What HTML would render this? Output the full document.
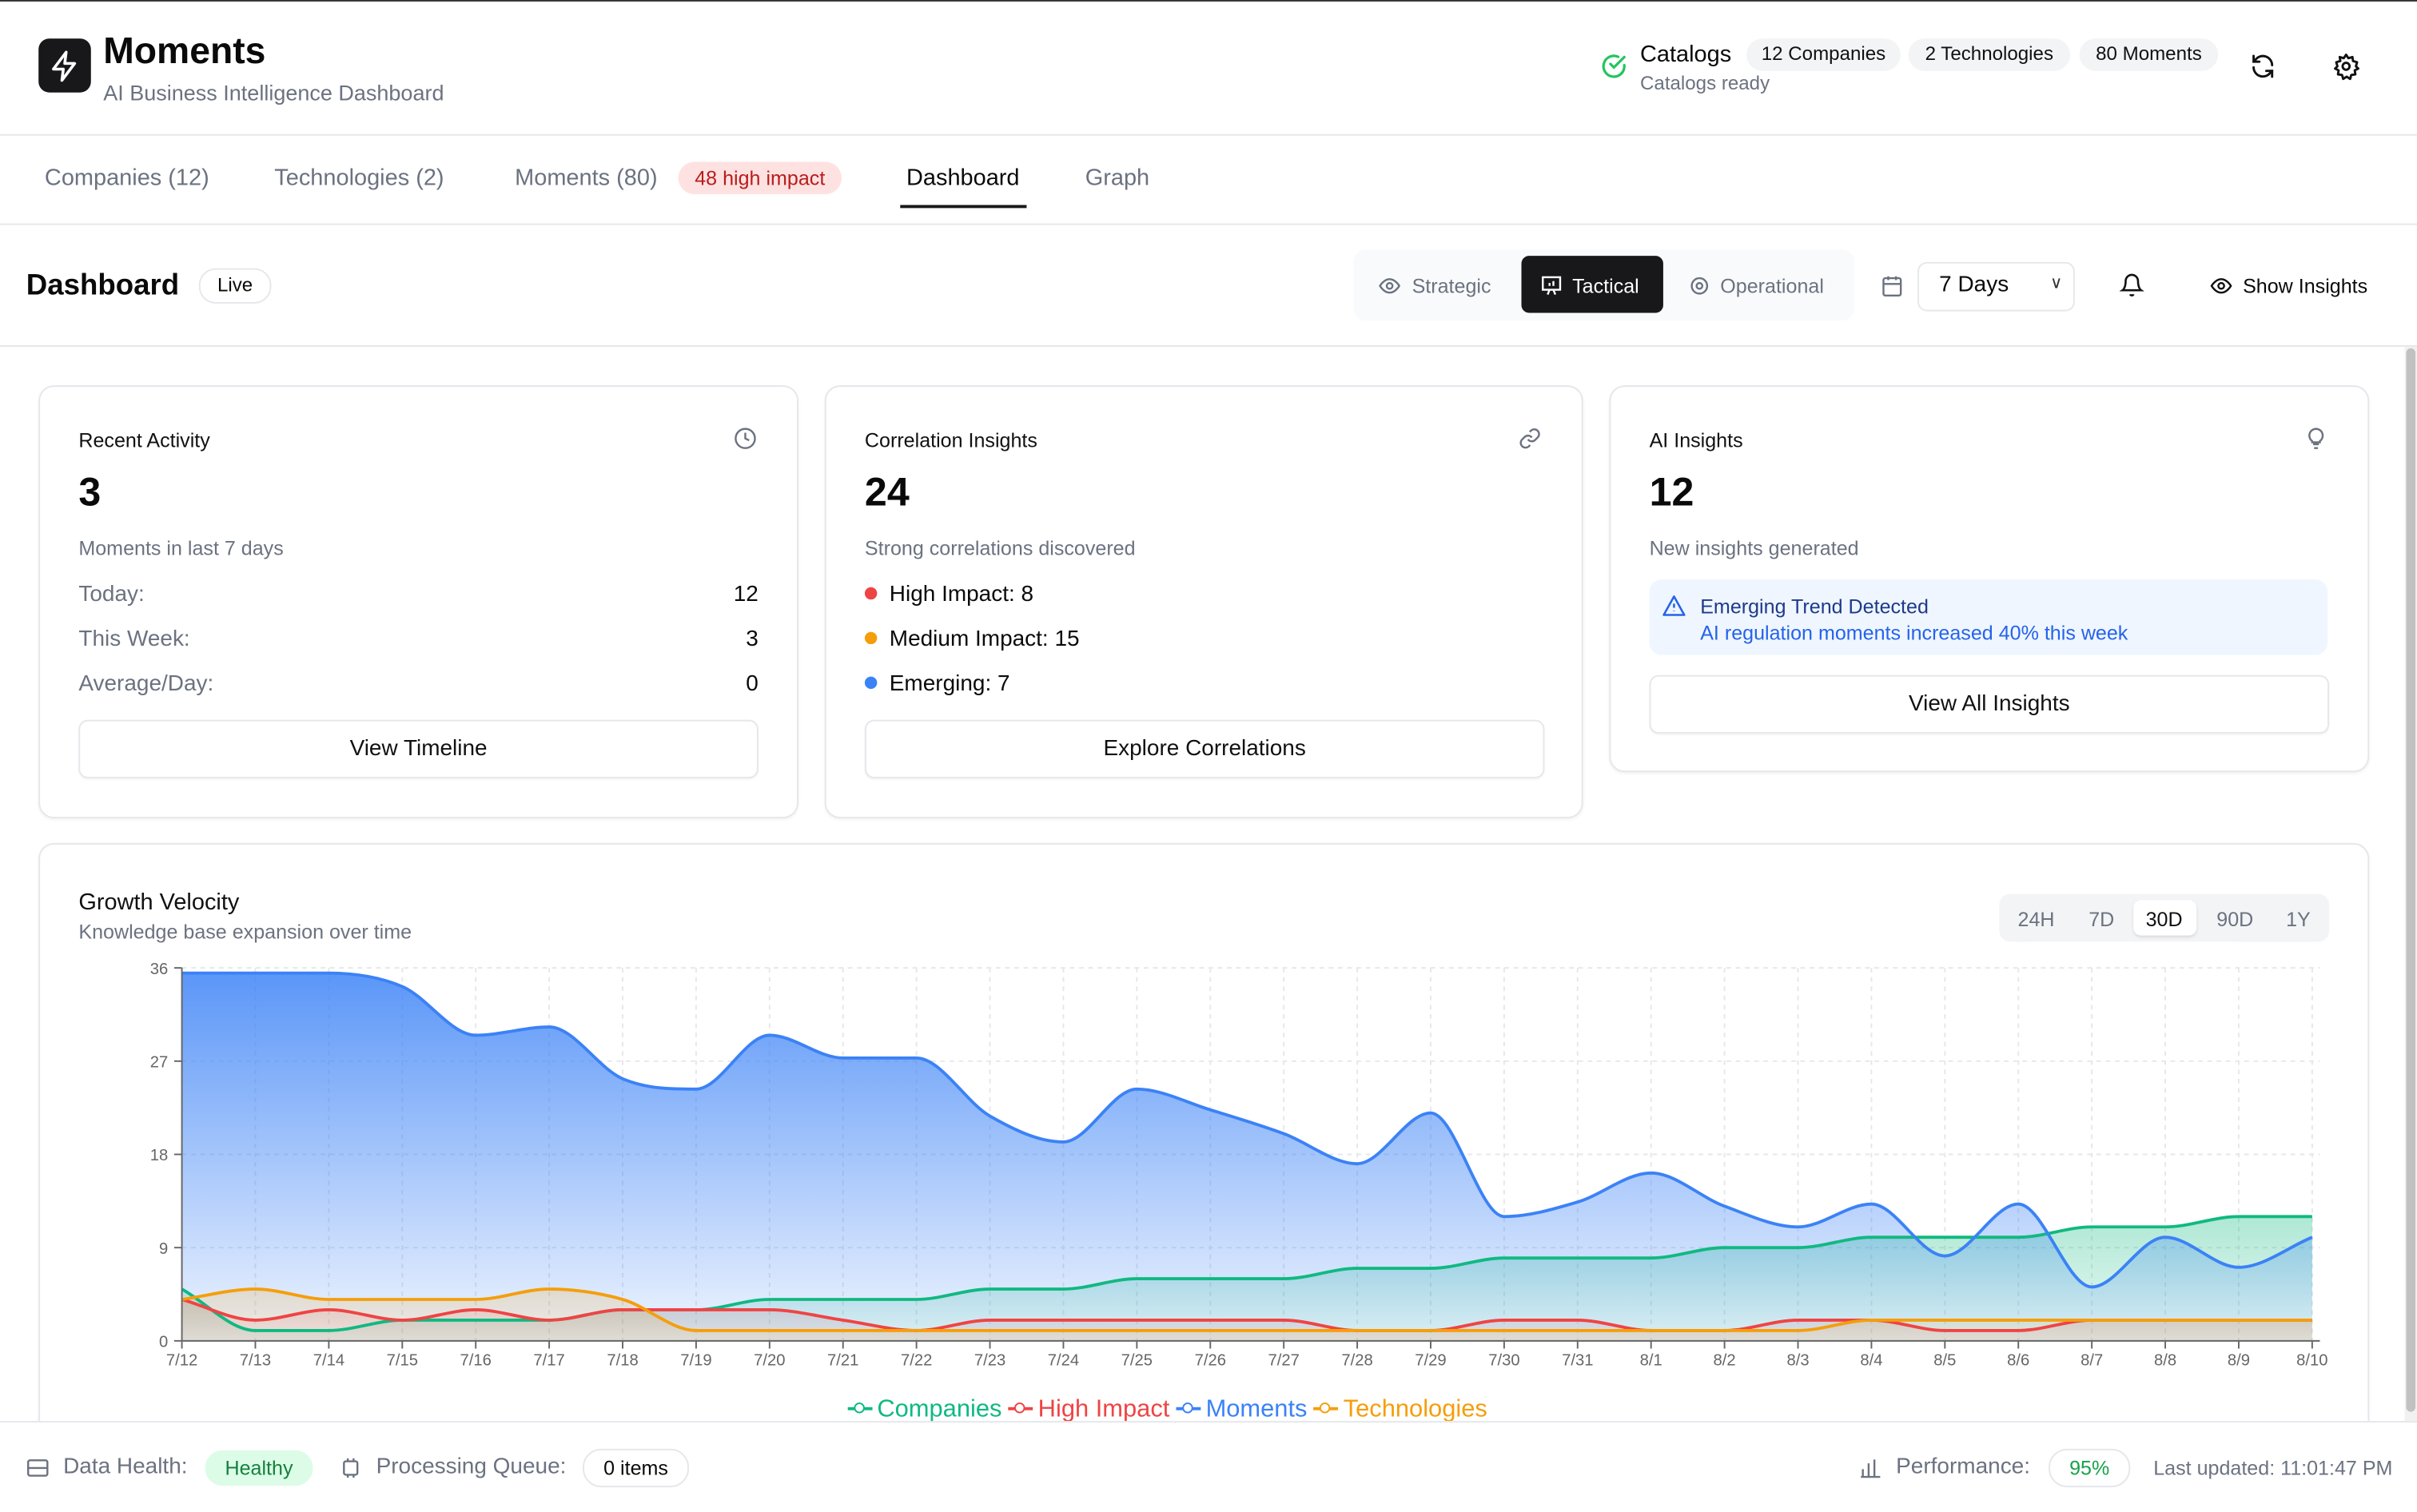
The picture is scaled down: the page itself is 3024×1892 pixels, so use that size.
<!DOCTYPE html>
<html><head><meta charset="utf-8">
<style>
html,body{margin:0;padding:0;background:#fff;overflow:hidden}
#root{position:absolute;left:0;top:0;width:1568px;height:980px;transform:scale(1.928571);transform-origin:0 0;font-family:"Liberation Sans",sans-serif;color:#0a0a0a}
.a{position:absolute;white-space:nowrap}
.hr{position:absolute;left:0;width:1568px;height:1px;background:#e5e7eb}
.pill{position:absolute;height:21px;line-height:21px;background:#f3f4f6;border-radius:11px;font-size:12.5px;text-align:center;color:#111}
.card{position:absolute;border:1px solid #e5e7eb;border-radius:10px;background:#fff;box-shadow:0 1px 2px rgba(0,0,0,.05)}
.ct{font-size:13px;color:#111}
.big{font-size:26px;font-weight:bold}
.cap{font-size:13px;color:#6b7280}
.row{font-size:14.5px;color:#6b7280}
.btn{position:absolute;border:1px solid #e5e7eb;border-radius:6px;background:#fff;text-align:center;font-size:14.5px;color:#111;box-shadow:0 1px 1px rgba(0,0,0,.04)}
.tab{position:absolute;top:107px;font-size:15px;color:#6b7280}
.dot{display:inline-block;width:8px;height:8px;border-radius:50%;margin-right:8px;vertical-align:1px}
.lg{display:inline-block;position:relative;width:16px;height:10px;margin-right:3px}
.lg:before{content:"";position:absolute;left:0;top:4px;width:16px;height:2px;background:currentColor}
.lg:after{content:"";position:absolute;left:4px;top:1px;width:5px;height:5px;border:1.5px solid currentColor;border-radius:50%;background:#fff}
</style></head><body><div id="root">
<div class="a" style="left:0;top:0;width:1568px;height:1px;background:#333"></div>
<div class="a" style="left:25px;top:25px;width:34px;height:35px;background:#18181b;border-radius:7px"></div>
<svg class="a" style="left:31px;top:32px" width="22" height="22" viewBox="0 0 24 24" fill="none" stroke="#fff" stroke-width="2" stroke-linejoin="round"><path d="M13 2L4 14h7l-1 8 9-12h-7z"/></svg>
<div class="a" style="left:67px;top:20px;font-size:24px;font-weight:bold">Moments</div>
<div class="a" style="left:67px;top:52px;font-size:14px;color:#6b7280">AI Business Intelligence Dashboard</div>
<svg class="a" style="left:1038px;top:34px" width="18" height="18" viewBox="0 0 24 24" fill="none" stroke="#22c55e" stroke-width="2.2" stroke-linecap="round"><path d="M21 11.1V12a9 9 0 1 1-5.3-8.2"/><path d="M21 4L12 13l-3-3"/></svg>
<div class="a" style="left:1064px;top:27px;font-size:15px">Catalogs</div>
<div class="a" style="left:1064px;top:47px;font-size:12.5px;color:#6b7280">Catalogs ready</div>
<div class="pill" style="left:1133px;top:25px;width:100px">12 Companies</div>
<div class="pill" style="left:1238px;top:25px;width:105px">2 Technologies</div>
<div class="pill" style="left:1349px;top:25px;width:90px">80 Moments</div>
<svg class="a" style="left:1459px;top:34px" width="18" height="18" viewBox="0 0 24 24" fill="none" stroke="#111" stroke-width="2" stroke-linecap="round"><path d="M20 11a8 8 0 0 0-14.5-4.5L4 8"/><path d="M4 3v5h5"/><path d="M4 13a8 8 0 0 0 14.5 4.5L20 16"/><path d="M20 21v-5h-5"/></svg>
<svg class="a" style="left:1513px;top:34px" width="18" height="18" viewBox="0 0 24 24" fill="none" stroke="#111" stroke-width="2"><circle cx="12" cy="12" r="3"/><path d="M12 2l2 3 3.5-1 .5 3.5 3.5 1-1 3.5 2 2-3 1.5.5 3.5-3.5.5-1 3.5-3-2-3 2-1-3.5-3.5-.5.5-3.5-3-1.5 2-2-1-3.5 3.5-1L6.5 4 10 5z" stroke-linejoin="round"/></svg>
<div class="hr" style="top:87px"></div>
<div class="tab" style="left:29px">Companies (12)</div>
<div class="tab" style="left:178px">Technologies (2)</div>
<div class="tab" style="left:334px">Moments (80)</div>
<div class="a" style="left:440px;top:105px;width:106px;height:21px;line-height:21px;background:#fee2e2;color:#b91c1c;border-radius:11px;font-size:13px;text-align:center">48 high impact</div>
<div class="tab" style="left:588px;color:#0a0a0a">Dashboard</div>
<div class="a" style="left:584px;top:133px;width:82px;height:2px;background:#18181b"></div>
<div class="tab" style="left:704px">Graph</div>
<div class="hr" style="top:145px"></div>
<div class="a" style="left:17px;top:175px;font-size:19px;font-weight:bold">Dashboard</div>
<div class="a" style="left:129px;top:174px;width:45px;height:21px;line-height:21px;border:1px solid #e5e7eb;border-radius:11px;font-size:12.5px;text-align:center">Live</div>
<div class="a" style="left:878px;top:162px;width:325px;height:46px;background:#f9fafb;border-radius:8px"></div>
<svg class="a" style="left:894px;top:178px" width="15" height="15" viewBox="0 0 24 24" fill="none" stroke="#6b7280" stroke-width="2"><path d="M2 12s4-7 10-7 10 7 10 7-4 7-10 7S2 12 2 12z"/><circle cx="12" cy="12" r="3"/></svg>
<div class="a" style="left:916px;top:178px;font-size:13px;color:#6b7280">Strategic</div>
<div class="a" style="left:987px;top:166px;width:92px;height:37px;background:#18181b;border-radius:5px"></div>
<svg class="a" style="left:999px;top:178px" width="15" height="15" viewBox="0 0 24 24" fill="none" stroke="#fff" stroke-width="2"><rect x="3" y="3" width="18" height="13"/><path d="M8 21l2-5M16 21l-2-5M10 12V9M14 12V7"/></svg>
<div class="a" style="left:1020px;top:178px;font-size:13px;color:#fff">Tactical</div>
<svg class="a" style="left:1095px;top:178px" width="15" height="15" viewBox="0 0 24 24" fill="none" stroke="#6b7280" stroke-width="2"><circle cx="12" cy="12" r="3"/><circle cx="12" cy="12" r="8"/></svg>
<div class="a" style="left:1116px;top:178px;font-size:13px;color:#6b7280">Operational</div>
<svg class="a" style="left:1220px;top:178px" width="15" height="15" viewBox="0 0 24 24" fill="none" stroke="#6b7280" stroke-width="2"><rect x="3" y="4" width="18" height="18" rx="2"/><path d="M16 2v4M8 2v4M3 10h18"/></svg>
<div class="a" style="left:1244px;top:170px;width:100px;height:30px;border:1px solid #e5e7eb;border-radius:6px"></div>
<div class="a" style="left:1258px;top:177px;font-size:14.5px">7 Days</div>
<div class="a" style="left:1330px;top:177px;font-size:11px;color:#333">&#8744;</div>
<svg class="a" style="left:1375px;top:177px" width="16" height="16" viewBox="0 0 24 24" fill="none" stroke="#111" stroke-width="2"><path d="M6 8a6 6 0 0 1 12 0c0 7 3 9 3 9H3s3-2 3-9"/><path d="M10.3 21a1.9 1.9 0 0 0 3.4 0"/></svg>
<svg class="a" style="left:1433px;top:178px" width="16" height="15" viewBox="0 0 24 24" fill="none" stroke="#111" stroke-width="2"><path d="M2 12s4-7 10-7 10 7 10 7-4 7-10 7S2 12 2 12z"/><circle cx="12" cy="12" r="3"/></svg>
<div class="a" style="left:1455px;top:178px;font-size:13px">Show Insights</div>
<div class="hr" style="top:224px"></div>
<div class="a" style="left:1560px;top:225px;width:8px;height:697px;background:#f1f1f1"></div>
<div class="a" style="left:1561px;top:226px;width:6px;height:690px;background:#c1c1c1;border-radius:3px"></div>
<div class="card" style="left:25px;top:250px;width:491px;height:279px"></div>
<div class="a ct" style="left:51px;top:278px">Recent Activity</div>
<svg class="a" style="left:476px;top:277px" width="15" height="15" viewBox="0 0 24 24" fill="none" stroke="#6b7280" stroke-width="2"><circle cx="12" cy="12" r="10"/><path d="M12 6v6l4 2"/></svg>
<div class="a big" style="left:51px;top:304px">3</div>
<div class="a cap" style="left:51px;top:348px">Moments in last 7 days</div>
<div class="a row" style="left:51px;top:378px">Today:</div><div class="a" style="left:460px;width:32px;text-align:right;top:378px;font-size:14.5px">12</div>
<div class="a row" style="left:51px;top:407px">This Week:</div><div class="a" style="left:460px;width:32px;text-align:right;top:407px;font-size:14.5px">3</div>
<div class="a row" style="left:51px;top:436px">Average/Day:</div><div class="a" style="left:460px;width:32px;text-align:right;top:436px;font-size:14.5px">0</div>
<div class="btn" style="left:51px;top:467px;width:439px;height:36px;line-height:36px">View Timeline</div>
<div class="card" style="left:535px;top:250px;width:490px;height:279px"></div>
<div class="a ct" style="left:561px;top:278px">Correlation Insights</div>
<svg class="a" style="left:985px;top:277px" width="15" height="15" viewBox="0 0 24 24" fill="none" stroke="#6b7280" stroke-width="2"><path d="M10 13a5 5 0 0 0 7.5.5l3-3a5 5 0 0 0-7-7l-1.7 1.7"/><path d="M14 11a5 5 0 0 0-7.5-.5l-3 3a5 5 0 0 0 7 7l1.7-1.7"/></svg>
<div class="a big" style="left:561px;top:304px">24</div>
<div class="a cap" style="left:561px;top:348px">Strong correlations discovered</div>
<div class="a" style="left:561px;top:378px;font-size:14.5px"><span class="dot" style="background:#ef4444"></span>High Impact: 8</div>
<div class="a" style="left:561px;top:407px;font-size:14.5px"><span class="dot" style="background:#f59e0b"></span>Medium Impact: 15</div>
<div class="a" style="left:561px;top:436px;font-size:14.5px"><span class="dot" style="background:#3b82f6"></span>Emerging: 7</div>
<div class="btn" style="left:561px;top:467px;width:439px;height:36px;line-height:36px">Explore Correlations</div>
<div class="card" style="left:1044px;top:250px;width:491px;height:249px"></div>
<div class="a ct" style="left:1070px;top:278px">AI Insights</div>
<svg class="a" style="left:1495px;top:276px" width="15" height="17" viewBox="0 0 24 24" fill="none" stroke="#6b7280" stroke-width="2"><path d="M9 18h6M10 22h4M12 2a7 7 0 0 0-4 12.7V16h8v-1.3A7 7 0 0 0 12 2z"/></svg>
<div class="a big" style="left:1070px;top:304px">12</div>
<div class="a cap" style="left:1070px;top:348px">New insights generated</div>
<div class="a" style="left:1070px;top:376px;width:440px;height:49px;background:#eff6ff;border-radius:8px"></div>
<svg class="a" style="left:1078px;top:385px" width="16" height="16" viewBox="0 0 24 24" fill="none" stroke="#2563eb" stroke-width="2"><path d="M12 3L2 21h20z" stroke-linejoin="round"/><path d="M12 10v4M12 17v.5"/></svg>
<div class="a" style="left:1103px;top:386px;font-size:13px;color:#1e3a8a">Emerging Trend Detected</div>
<div class="a" style="left:1103px;top:403px;font-size:13px;color:#2563eb">AI regulation moments increased 40% this week</div>
<div class="btn" style="left:1070px;top:438px;width:439px;height:36px;line-height:36px">View All Insights</div>
<div class="card" style="left:25px;top:547px;width:1510px;height:420px"></div>
<div class="a" style="left:51px;top:577px;font-size:15px;color:#111">Growth Velocity</div>
<div class="a" style="left:51px;top:597px;font-size:13px;color:#6b7280">Knowledge base expansion over time</div>
<div class="a" style="left:1297px;top:580px;width:214px;height:31px;background:#f3f4f6;border-radius:7px"></div>
<div class="a" style="left:1384px;top:584px;width:41px;height:23px;background:#fff;border-radius:5px;box-shadow:0 1px 2px rgba(0,0,0,.1)"></div>
<div class="a" style="left:1309px;top:589px;font-size:13px;color:#6b7280">24H</div>
<div class="a" style="left:1355px;top:589px;font-size:13px;color:#6b7280">7D</div>
<div class="a" style="left:1392px;top:589px;font-size:13px;color:#111">30D</div>
<div class="a" style="left:1438px;top:589px;font-size:13px;color:#6b7280">90D</div>
<div class="a" style="left:1483px;top:589px;font-size:13px;color:#6b7280">1Y</div>
<svg id="ch" class="a" style="left:0;top:0" width="1568" height="980"></svg>
<div class="a" style="left:550px;top:906px;font-size:16px">
<span style="color:#10b981"><i class="lg"></i>Companies</span> <span style="color:#ef4444"><i class="lg"></i>High Impact</span> <span style="color:#3b82f6"><i class="lg"></i>Moments</span> <span style="color:#f59e0b"><i class="lg"></i>Technologies</span></div>
<div class="a" style="left:0;top:922px;width:1568px;height:58px;background:#fff;border-top:1px solid #e5e7eb"></div>
<svg class="a" style="left:17px;top:945px" width="15" height="15" viewBox="0 0 24 24" fill="none" stroke="#6b7280" stroke-width="2"><rect x="2" y="4" width="20" height="16" rx="2"/><path d="M2 12h20"/></svg>
<div class="a" style="left:41px;top:944px;font-size:14.5px;color:#6b7280">Data Health:</div>
<div class="a" style="left:133px;top:941px;width:70px;height:23px;line-height:23px;background:#dcfce7;color:#15803d;border-radius:12px;font-size:13px;text-align:center">Healthy</div>
<svg class="a" style="left:220px;top:945px" width="15" height="15" viewBox="0 0 24 24" fill="none" stroke="#6b7280" stroke-width="2"><rect x="5" y="5" width="14" height="14" rx="2"/><path d="M9 2v3M15 2v3M9 19v3M15 19v3"/></svg>
<div class="a" style="left:244px;top:944px;font-size:14.5px;color:#6b7280">Processing Queue:</div>
<div class="a" style="left:378px;top:940px;width:67px;height:23px;line-height:23px;border:1px solid #e5e7eb;border-radius:12px;font-size:13px;text-align:center">0 items</div>
<svg class="a" style="left:1206px;top:944px" width="15" height="16" viewBox="0 0 24 24" fill="none" stroke="#6b7280" stroke-width="2"><path d="M4 22V14M10 22V8M16 22V4M2 22h20"/></svg>
<div class="a" style="left:1230px;top:944px;font-size:14.5px;color:#6b7280">Performance:</div>
<div class="a" style="left:1329px;top:940px;width:51px;height:23px;line-height:23px;border:1px solid #e5e7eb;border-radius:12px;color:#16a34a;font-size:13px;text-align:center">95%</div>
<div class="a" style="left:1397px;top:945px;font-size:13px;color:#6b7280">Last updated: 11:01:47 PM</div>
</div>
<script>
(function(){
var svg=document.getElementById('ch');
var x0=118,step=(1500-118)/29,yb=870,k=242/36;
function X(i){return x0+i*step}function Y(v){return yb-v*k}
var S={
c:[5,1,1,2,2,2,3,3,4,4,4,5,5,6,6,6,7,7,8,8,8,9,9,10,10,10,11,11,12,12],
h:[4,2,3,2,3,2,3,3,3,2,1,2,2,2,2,2,1,1,2,2,1,1,2,2,1,1,2,2,2,2],
m:[35.5,35.5,35.5,34.2,29.5,30.3,25.3,24.3,29.5,27.3,27.3,21.7,19.2,24.3,22.3,20,17.1,22,12,13.4,16.2,13,11,13.2,8.2,13.2,5.2,10,7.1,10],
t:[4,5,4,4,4,5,4,1,1,1,1,1,1,1,1,1,1,1,1,1,1,1,1,2,2,2,2,2,2,2]};
function path(d){var n=d.length,p=[],i;for(i=0;i<n;i++)p.push([X(i),Y(d[i])]);
var s=[],m=[];for(i=0;i<n-1;i++)s.push((p[i+1][1]-p[i][1])/(p[i+1][0]-p[i][0]));
m[0]=s[0];m[n-1]=s[n-2];for(i=1;i<n-1;i++){if(s[i-1]*s[i]<=0)m[i]=0;else{m[i]=(s[i-1]+s[i])/2;var a=3*Math.min(Math.abs(s[i-1]),Math.abs(s[i]));if(Math.abs(m[i])>a)m[i]=Math.sign(m[i])*a;}}
var r='M'+p[0][0]+','+p[0][1];for(i=0;i<n-1;i++){var h=(p[i+1][0]-p[i][0])/3;r+='C'+(p[i][0]+h)+','+(p[i][1]+m[i]*h)+' '+(p[i+1][0]-h)+','+(p[i+1][1]-m[i+1]*h)+' '+p[i+1][0]+','+p[i+1][1];}return r;}
var h='<defs>';var cols={c:'#10b981',h:'#ef4444',m:'#3b82f6',t:'#f59e0b'};
for(var c in cols)h+='<linearGradient id="g'+c+'" gradientUnits="userSpaceOnUse" x1="0" y1="628" x2="0" y2="870"><stop offset="0" stop-color="'+cols[c]+'" stop-opacity="0.85"/><stop offset="1" stop-color="'+cols[c]+'" stop-opacity="0.08"/></linearGradient>';
h+='<linearGradient id="gs" x1="0" y1="0" x2="0" y2="1"><stop offset="0" stop-color="#f59e0b" stop-opacity="0.6"/><stop offset="1" stop-color="#ef4444" stop-opacity="0.25"/></linearGradient>';
h+='</defs>';
for(var j=0;j<=29;j++){h+='<line x1="'+X(j)+'" y1="628" x2="'+X(j)+'" y2="870" stroke="#e5e7eb" stroke-dasharray="3 3"/>';
var lab=j<20?('7/'+(12+j)):('8/'+(j-19));h+='<text x="'+X(j)+'" y="886" font-size="10.5" fill="#666" text-anchor="middle" font-family="Liberation Sans">'+lab+'</text><line x1="'+X(j)+'" y1="870" x2="'+X(j)+'" y2="875" stroke="#666"/>';}
[0,9,18,27,36].forEach(function(v){h+='<line x1="118" y1="'+Y(v)+'" x2="1505" y2="'+Y(v)+'" stroke="#e5e7eb" stroke-dasharray="3 3"/><line x1="113" y1="'+Y(v)+'" x2="118" y2="'+Y(v)+'" stroke="#666"/><text x="109" y="'+(Y(v)+4)+'" font-size="10.5" fill="#666" text-anchor="end" font-family="Liberation Sans">'+v+'</text>';});
['c','h','m','t'].forEach(function(c){var d=path(S[c]);h+='<path d="'+d+'L'+X(29)+',870L'+X(0)+',870Z" fill="url(#g'+c+')"/>';});
['c','h','m','t'].forEach(function(c){h+='<path d="'+path(S[c])+'" fill="none" stroke="'+cols[c]+'" stroke-width="2"/>';});
h+='<line x1="118" y1="628" x2="118" y2="870" stroke="#666"/><line x1="118" y1="870" x2="1505" y2="870" stroke="#666"/>';
svg.innerHTML=h;})();
</script>
</body></html>
